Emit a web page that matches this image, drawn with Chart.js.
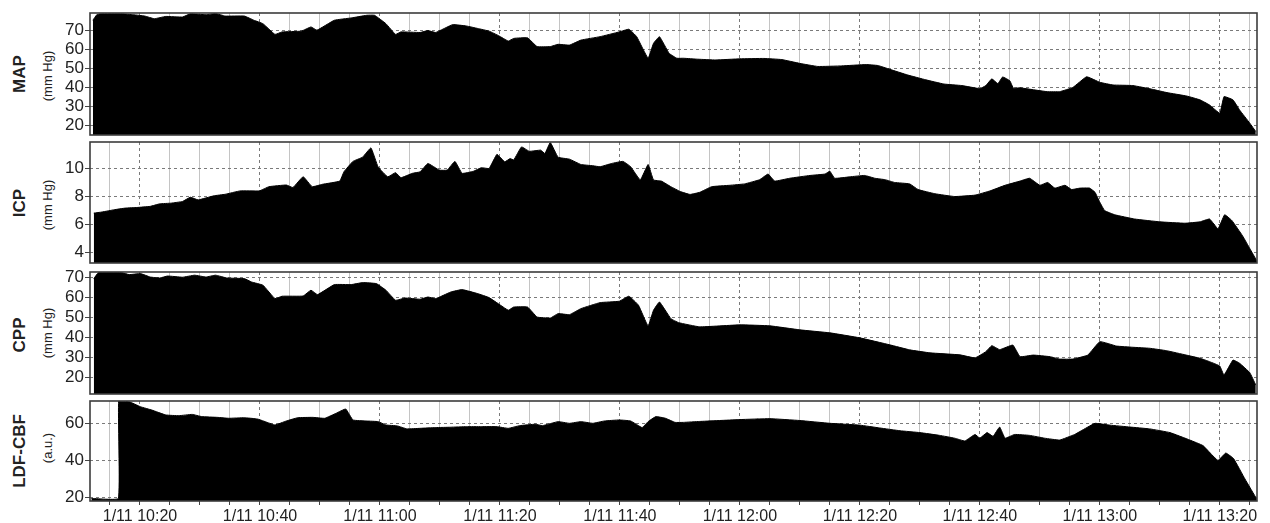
<!DOCTYPE html>
<html>
<head>
<meta charset="utf-8">
<script src="https://cdn.jsdelivr.net/npm/chart.js@4/dist/chart.umd.min.js"></script>
<style>
  html, body { margin: 0; padding: 0; background: #fff; }
  body { width: 1270px; height: 523px; position: relative; overflow: hidden;
         font-family: "Liberation Sans", Arial, sans-serif; color: #222; }
  .panel { position: absolute; left: 0; }
  .ylab { position: absolute; white-space: nowrap; transform: translate(-50%, -50%) rotate(-90deg); }
  .ylab.main { font-weight: bold; font-size: 17px; }
  .ylab.unit { font-size: 13px; }
</style>
</head>
<body>

<div class="ylab main" style="left:20px; top:74px">MAP</div>
<div class="ylab unit" style="left:47px; top:76px">(mm Hg)</div>
<div class="ylab main" style="left:20px; top:203px">ICP</div>
<div class="ylab unit" style="left:47px; top:205px">(mm Hg)</div>
<div class="ylab main" style="left:20px; top:335px">CPP</div>
<div class="ylab unit" style="left:47px; top:333px">(mm Hg)</div>
<div class="ylab main" style="left:20px; top:451px">LDF-CBF</div>
<div class="ylab unit" style="left:47px; top:448px">(a.u.)</div>

<canvas id="cMAP" class="panel"></canvas>
<canvas id="cICP" class="panel"></canvas>
<canvas id="cCPP" class="panel"></canvas>
<canvas id="cLDF" class="panel"></canvas>

<script>
// Time is in minutes after 10:00 on 1/11.
const timeMin = 11.67;
const timeMax = 206.2;

// Mean arterial pressure (mm Hg)
const mapTime = [12.15,12.8,13.4,17,18.9,20.8,22.4,24.3,27.1,28.4,31,32.6,34.2,37.4,39,40.5,42.5,43.7,46.9,48.5,49.5,52.4,55.2,57.8,59.1,61,62.6,63.5,66.7,68,69.3,72.1,74.4,76.3,78.2,79.8,81.4,82.3,84.6,86.2,88.4,89.7,91.6,93.5,96.7,99.9,101.5,102.8,104.7,105.6,106.6,108.2,109.5,110.6,113,116,120,124,127,130,133,137,141,143,145,148,151,154,157,160,161,162,163,163.8,165,165.6,166.7,171.2,173.3,175.5,177.8,180,182.2,185.5,188.8,191.2,194.5,196.7,198.3,200,200.7,202.2,203.3,205,206];
const mapVal  = [75.2,78.1,78.6,78.6,78.1,77.4,76,77.2,76.9,78.6,78.1,78.8,77.4,77.4,75.2,73.4,67.8,69.1,69.5,71.7,70,75.2,76.4,77.8,77.8,73.4,67.8,69.1,68.8,69.8,68.8,72.9,72.2,70.9,69.5,67.1,64.3,65.7,66,61.4,61.4,62.6,62.2,64.8,66.6,69.1,70.5,66.6,55.3,63.1,66.6,57.9,55.3,55.3,54.8,54.4,55,55.2,54.6,52.6,51,51.3,52,51.5,49.5,46.5,44,41.8,41,39.4,41,44.5,42,45.5,43.5,39.6,39.8,37.8,37.8,40,45.6,42.7,41.3,41,39,37.3,35.5,33.5,30.8,26.5,35.2,33.5,28.2,21.3,16.9];

// Intracranial pressure (mm Hg)
const icpTime = [12.3,13.7,15.7,17.6,19.5,21.7,23.3,25.2,27.1,28.4,29.7,32.3,34.2,36.7,39.9,41.5,44.4,45.5,47.2,48.7,50.4,53.3,54,55.5,57.1,58.5,59.7,61.3,62.6,63.5,65.4,66.7,68,69.9,71.2,72.5,73.7,75.6,76.9,78.2,79.5,80.8,81.7,82.3,83.6,84.9,86.8,87.5,88.4,89.7,91.6,93.5,95.5,96.7,98.6,100.5,101.8,103.4,104.7,105.6,106.9,108.5,110.1,111.7,113.3,115.3,118.3,120.8,123.3,124.7,125.8,128.3,131.7,134.2,135,135.8,138.3,140.8,142.5,144.2,145.8,148.3,149.7,152.5,155.8,159.2,161.7,164.2,166.7,168.3,170,171.3,172.5,174.2,175.3,176.7,178.3,179.2,180,180.8,182.5,185.8,190,194.2,196.7,198.3,199.7,200.8,202,203.8,205,206.2];
const icpVal  = [6.82,6.9,7.06,7.18,7.22,7.3,7.48,7.53,7.65,7.95,7.76,8.05,8.16,8.4,8.4,8.7,8.82,8.64,9.41,8.7,8.87,9.1,9.76,10.5,10.8,11.46,10.1,9.4,9.7,9.34,9.65,9.76,10.35,9.88,9.88,10.5,9.65,9.8,10.05,10,11,10.47,10.7,10.6,11.53,11.22,11.3,11.06,11.84,10.8,10.66,10.28,10.19,10.12,10.35,10.5,10.12,9.18,10.28,9.18,9.1,8.7,8.35,8.15,8.3,8.7,8.8,8.9,9.2,9.6,9.1,9.3,9.5,9.6,9.8,9.3,9.4,9.5,9.3,9.2,9.0,8.9,8.5,8.2,8.0,8.1,8.4,8.8,9.1,9.3,8.8,9.0,8.6,8.8,8.5,8.6,8.6,8.3,7.6,7.0,6.7,6.4,6.2,6.1,6.2,6.4,5.7,6.7,6.3,5.2,4.3,3.4];

// Cerebral perfusion pressure (mm Hg)
const cppTime = [12.3,13.1,16.9,18.2,20.1,21.7,23.3,24.6,27.1,29.1,31,32.6,34.5,37.4,38.6,40.5,42.5,43.7,47.2,48.5,49.6,52.4,55.2,57.1,59.4,61,62.6,64.2,66.7,68,69.3,71.8,73.7,76.3,78.2,80.1,81.4,82.3,84.6,86.2,88.4,89.7,91.6,93.5,96.7,99.9,101.5,103.1,104.7,105.6,106.6,108.5,109.8,113.3,120,125,130,135,140,145,148.3,151.7,156.7,159.2,161,162,163.3,165.5,166.7,168.9,171.7,173.3,175.5,178,180,182.8,185.5,188.3,191.1,194.4,196.7,198.3,200,200.7,202.2,203.3,205,206];
const cppVal  = [69.5,72.5,72.5,71.5,72,70.3,69.8,70.8,70.2,71.2,70.3,71.2,69.8,69.5,67.8,66.2,59.5,60.7,60.8,63.7,61.5,66.5,66.5,67.5,67,63.7,58.7,59.8,59.2,60.3,59.5,62.8,64,62,60,56.2,53.7,55.3,55.3,50.3,49.8,52,51.5,54.5,57.5,58.2,60.7,56.2,45.8,53.7,57.8,49.5,47.5,45.4,46.4,45.9,43.9,42.4,39.9,36.4,33.9,32.4,31.4,29.9,33,36,34,36.3,30.5,31.3,30.5,29.3,29.3,31.3,38,35.8,35.2,34.7,33.5,31.3,29.7,28,25.8,21.3,28.8,27.2,22.5,16.3,13];

// Laser-Doppler cerebral blood flow (arbitrary units)
const ldfTime = [11.9,16.4,16.45,18.2,20.1,22,24.3,26.5,28.7,30.3,32.9,34.8,37.4,39.6,41.2,42.5,44.4,46.3,48.8,50.8,52.7,54.3,55.5,57.8,59.7,61,62.9,64.5,66.7,69.3,71.8,74.4,76.9,79.5,81.4,83.3,85.9,87.1,89.7,91.6,93.5,95.5,97.4,99.9,101.8,103.7,104.7,106,107.6,109.2,110.6,113.3,120,125,130,135,140,143.3,146.7,150,153.3,155.8,157.5,159.2,160,161.2,162.2,163.3,164.2,165.8,168.3,170.8,173.3,175.8,178,179.2,181.7,185,188.3,191.7,195,197.2,198.7,199.7,201,202.3,204.2,206.2];
const ldfVal  = [19.6,19.6,72,71.6,68.9,67.1,64.5,64.1,64.8,63.6,63.2,62.7,63,62.3,60.5,59.1,61.25,63,63.2,62.7,65.4,67.7,61.8,61.25,60.9,59.1,58.6,57,57.3,57.7,57.9,58.2,58.2,58.2,57.3,58.75,59.5,58.75,60.9,60,60.9,60,61.25,61.8,61.25,57.7,60.9,63.6,62.7,60.5,60.5,61,62,62.5,61.5,60,59,57.5,56,55,53.5,52,50.5,54,52,55,53,58,52,54,53.5,52,51,54,58,60,59,58,57,55,51,48,43,40,44,41,30,19];

// Tick values
const mapTicks = [20, 30, 40, 50, 60, 70];
const icpTicks = [4, 6, 8, 10];
const cppTicks = [20, 30, 40, 50, 60, 70];
const ldfTicks = [20, 40, 60];
const timeLabelStep = 20;

function clockLabel(m) {
  const h = 10 + Math.floor(m / 60);
  const mm = m % 60;
  return '1/11 ' + h + ':' + String(mm).padStart(2, '0');
}

const framePlugin = {
  id: 'frame',
  afterDatasetsDraw(chart) {
    const a = chart.chartArea, ctx = chart.ctx;
    ctx.save();
    ctx.strokeStyle = '#3c3c3c';
    ctx.lineWidth = 1.6;
    ctx.strokeRect(a.left, a.top, a.right - a.left, a.bottom - a.top);
    ctx.restore();
  }
};

function makePanel(id, top, plotH, showTime, times, vals, yMin, yMax, ticks, bottomH) {
  const canvas = document.getElementById(id);
  const pad = 3;
  const h = plotH + pad + (showTime ? bottomH : pad);
  canvas.width = 1270;
  canvas.height = h;
  canvas.style.top = (top - pad) + 'px';
  canvas.style.width = '1270px';
  canvas.style.height = h + 'px';

  const pts = times.map((t, i) => ({ x: t, y: vals[i] }));

  return new Chart(canvas, {
    type: 'line',
    data: { datasets: [{
      data: pts,
      borderColor: '#000',
      backgroundColor: '#000',
      borderWidth: 1,
      pointRadius: 0,
      tension: 0.1,
      fill: 'start'
    }]},
    options: {
      responsive: false,
      animation: false,
      devicePixelRatio: 1,
      layout: { padding: { top: pad, bottom: showTime ? 0 : pad, left: 0, right: 13 } },
      plugins: { legend: { display: false }, tooltip: { enabled: false } },
      scales: {
        x: {
          type: 'linear',
          min: timeMin, max: timeMax,
          afterFit: s => {
            s.height = showTime ? bottomH : 0;
            s.paddingLeft = 0; s.paddingRight = 0; s.paddingTop = 0; s.paddingBottom = 0;
          },
          border: { display: false, dash: c => (c.tick && c.tick.value % timeLabelStep === 0) ? [3, 3] : [] },
          grid: {
            color: c => (c.tick && c.tick.value % timeLabelStep === 0) ? '#7a7a7a' : '#c4c4c4',
            lineWidth: 1,
            drawTicks: showTime,
            tickLength: 4,
            tickColor: '#444'
          },
          ticks: {
            display: showTime,
            stepSize: 5,
            includeBounds: false,
            autoSkip: false,
            maxRotation: 0,
            padding: 2,
            color: '#222',
            font: { family: '"Liberation Sans", Arial, sans-serif', size: 16 },
            callback: v => (v % timeLabelStep === 0) ? clockLabel(v) : ''
          }
        },
        y: {
          min: yMin, max: yMax,
          afterFit: s => {
            s.width = 90;
            s.paddingLeft = 0; s.paddingRight = 0; s.paddingTop = 0; s.paddingBottom = 0;
          },
          afterBuildTicks: s => { s.ticks = ticks.map(v => ({ value: v })); },
          border: { display: false, dash: [3, 3] },
          grid: { color: '#7a7a7a', lineWidth: 1, drawTicks: true, tickLength: 5, tickColor: '#444' },
          ticks: {
            autoSkip: false,
            padding: 1,
            color: '#222',
            font: { family: '"Liberation Sans", Arial, sans-serif', size: 17 }
          }
        }
      }
    },
    plugins: [framePlugin]
  });
}

makePanel('cMAP', 13, 122, false, mapTime, mapVal, 15.1, 79.0, mapTicks, 0);
makePanel('cICP', 142, 121, false, icpTime, icpVal, 3.27, 11.88, icpTicks, 0);
makePanel('cCPP', 272, 122, false, cppTime, cppVal, 11.85, 72.8, cppTicks, 0);
makePanel('cLDF', 401, 100, true, ldfTime, ldfVal, 18.2, 72.0, ldfTicks, 22);
</script>
</body>
</html>
